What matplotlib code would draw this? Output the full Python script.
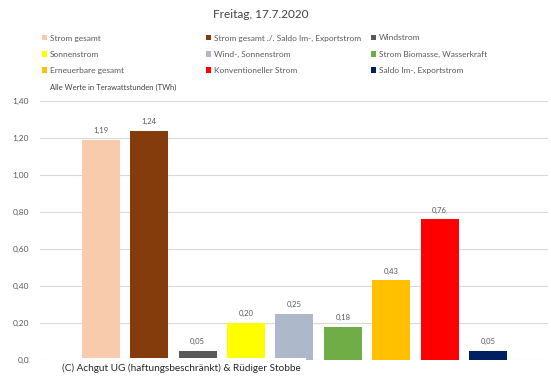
import matplotlib
matplotlib.use("Agg")
import matplotlib.pyplot as plt
from matplotlib.patches import Rectangle

plt.rcParams['font.family'] = ['Lato', 'DejaVu Sans']

title = "Freitag, 17.7.2020"
categories = ["Strom gesamt", "Strom gesamt ./. Saldo Im-, Exportstrom", "Windstrom",
              "Sonnenstrom", "Wind-, Sonnenstrom", "Strom Biomasse, Wasserkraft",
              "Erneuerbare gesamt", "Konventioneller Strom", "Saldo Im-, Exportstrom"]
values = [1.19, 1.24, 0.05, 0.20, 0.25, 0.18, 0.43, 0.76, 0.05]
colors = ["#F8CBAD", "#843C0C", "#595959", "#FFFF00", "#ADB9CA", "#70AD47",
          "#FFC000", "#FF0000", "#002060"]
yticks = [0.0, 0.2, 0.4, 0.6, 0.8, 1.0, 1.2, 1.4]
ytick_labels = ["0,0", "0,20", "0,40", "0,60", "0,80", "1,00", "1,20", "1,40"]
unit_note = "Alle Werte in Terawattstunden (TWh)"
copyright_text = "(C) Achgut UG (haftungsbeschränkt) & Rüdiger Stobbe"

W, H = 551, 379
fig = plt.figure(figsize=(W / 100, H / 100), dpi=100)
ax = fig.add_axes([40 / W, 1 - 360 / H, (548 - 40) / W, (360 - 101) / H])

bars = []
for i, (c, v, col) in enumerate(zip(categories, values, colors)):
    b = ax.bar(i, v, width=0.785, color=col, label=c, zorder=2)
    bars.append(b)
    ax.text(i, v + 0.03, f"{v:.2f}".replace(".", ","), ha="center", va="bottom",
            fontsize=5.5, color="#595959")

ax.set_xlim(-1.26, 9.24)
ax.set_ylim(0, 1.4)
ax.set_yticks(yticks)
ax.set_yticklabels(ytick_labels, fontsize=6, color="#595959")
ax.set_xticks([])
ax.grid(axis="y", color="#D9D9D9", linewidth=0.8, zorder=0)
for s in ax.spines.values():
    s.set_visible(False)
ax.tick_params(axis="y", length=0, pad=8)

fig.text(261 / W, 1 - 14 / H, title, ha="center", va="center", fontsize=8.5, color="#404040")

# legends: three columns
cols_x = [42 / W, 206 / W, 371 / W]
for k in range(3):
    handles = [bars[k + 3 * r] for r in range(3)]
    labels = [categories[k + 3 * r] for r in range(3)]
    leg = fig.legend(handles, labels, loc="upper left", bbox_to_anchor=(cols_x[k], 1 - 34.5 / H),
                     frameon=False, fontsize=6, handlelength=0.65, handleheight=0.65,
                     handletextpad=0.3, labelspacing=1.1, borderpad=0, borderaxespad=0)
    for t in leg.get_texts():
        t.set_color("#595959")

fig.text(50 / W, 1 - 87 / H, unit_note, ha="left", va="center", fontsize=5.5, color="#404040")

# copyright box overlapping bottom of plot
fig.patches.append(Rectangle((48 / W, 0), (306 - 48) / W, (H - 358) / H,
                             transform=fig.transFigure, facecolor="white",
                             edgecolor="none", zorder=5))
fig.text(62 / W, 1 - 368 / H, copyright_text, ha="left", va="center", fontsize=7.2,
         color="#262626", zorder=6)

fig.savefig("out.png", dpi=100)
